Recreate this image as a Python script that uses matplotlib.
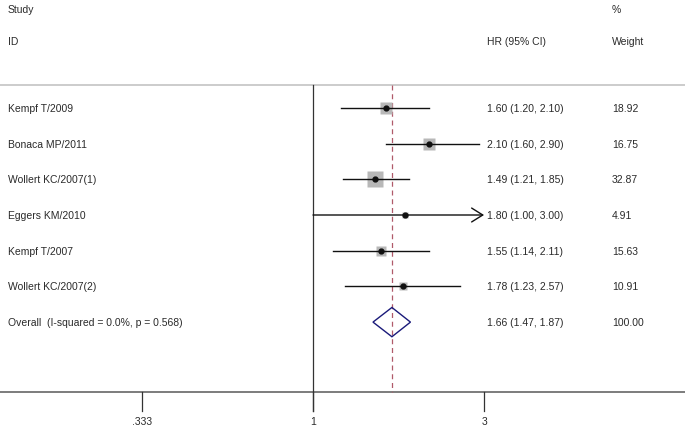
import numpy as np
import matplotlib
matplotlib.use("Agg")
import matplotlib.pyplot as plt
from matplotlib.patches import Polygon
import matplotlib.transforms as mtrans

studies = ["Kempf T/2009", "Bonaca MP/2011", "Wollert KC/2007(1)", "Eggers KM/2010",
           "Kempf T/2007", "Wollert KC/2007(2)"]
hr = [1.60, 2.10, 1.49, 1.80, 1.55, 1.78]
lo = [1.20, 1.60, 1.21, 1.00, 1.14, 1.23]
hi = [2.10, 2.90, 1.85, 3.00, 2.11, 2.57]
weights = [18.92, 16.75, 32.87, 4.91, 15.63, 10.91]
overall_label = "Overall  (I-squared = 0.0%, p = 0.568)"
overall = (1.66, 1.47, 1.87)
overall_weight = 100.00
tick_vals = [1/3, 1, 3]
tick_labels = [".333", "1", "3"]

plt.rcParams['font.family'] = ['Liberation Sans', 'DejaVu Sans']
fig = plt.figure(figsize=(6.85, 4.27), dpi=100)
ax = fig.add_axes([0, 0, 1, 1])
ax.set_xscale('log')
ax.set_xlim(np.exp(-2.01), np.exp(2.389))
ax.set_ylim(8.91, -3.05)
ax.axis('off')

tc = '#2a2a2a'
fs = 7.5
tr = mtrans.blended_transform_factory(ax.transAxes, ax.transData)

ax.text(8/685, -2.77, "Study", transform=tr, fontsize=fs, color=tc, va='center')
ax.text(8/685, -1.88, "ID", transform=tr, fontsize=fs, color=tc, va='center')
ax.text(612/685, -2.77, "%", transform=tr, fontsize=fs, color=tc, va='center')
ax.text(612/685, -1.88, "Weight", transform=tr, fontsize=fs, color=tc, va='center')
ax.text(487/685, -1.88, "HR (95% CI)", transform=tr, fontsize=fs, color=tc, va='center')

# top line
ax.plot([0, 1], [-0.645, -0.645], transform=tr, color='#c4c4c4', lw=1.2, clip_on=False)
# bottom axis line
ax.plot([0, 1], [7.955, 7.955], transform=tr, color='#666666', lw=1.2, clip_on=False)

# null line
ax.plot([1, 1], [-0.645, 8.49], color='#333333', lw=0.9)
# overall dashed
ax.plot([overall[0], overall[0]], [-0.645, 7.955], color='#b05a6a', lw=0.9, ls=(0, (4, 3)))

# ticks
for v, lab in zip(tick_vals, tick_labels):
    ax.plot([v, v], [7.955, 8.49], color='#333333', lw=0.9)
    ax.text(v, 8.77, lab, fontsize=fs, color=tc, ha='center', va='center')

maxw = max(weights)
for i, (s, h, l, u, w) in enumerate(zip(studies, hr, lo, hi, weights)):
    ax.text(8/685, i, s, transform=tr, fontsize=fs, color=tc, va='center')
    ax.text(487/685, i, f"{h:.2f} ({l:.2f}, {u:.2f})", transform=tr, fontsize=fs, color=tc, va='center')
    ax.text(612/685, i, f"{w:.2f}", transform=tr, fontsize=fs, color=tc, va='center')
    side_px = 15.5 * np.sqrt(w / maxw)
    ax.plot([h], [i], marker='s', ms=side_px * 0.72, color='#b8b8b8', mec='none', zorder=2)
    if s == "Eggers KM/2010":
        ax.annotate("", xy=(u, i), xytext=(l, i),
                    arrowprops=dict(arrowstyle='->,head_length=0.8,head_width=0.5', color='#111111', lw=1.0,
                                    shrinkA=0, shrinkB=0))
    else:
        ax.plot([l, u], [i, i], color='#111111', lw=1.0, zorder=3)
    ax.plot([h], [i], marker='o', ms=3.5, color='#111111', zorder=4)

# overall diamond
yo = len(studies)
est, olo, ohi = overall
dh = 0.41
diamond = Polygon([[olo, yo], [est, yo - dh], [ohi, yo], [est, yo + dh]], closed=True,
                  fill=False, edgecolor='#1a1a7a', lw=1.0, zorder=5)
ax.add_patch(diamond)
ax.text(8/685, yo, overall_label, transform=tr, fontsize=fs, color=tc, va='center')
ax.text(487/685, yo, f"{est:.2f} ({olo:.2f}, {ohi:.2f})", transform=tr, fontsize=fs, color=tc, va='center')
ax.text(612/685, yo, f"{overall_weight:.2f}", transform=tr, fontsize=fs, color=tc, va='center')

fig.savefig("out.png", dpi=100)
